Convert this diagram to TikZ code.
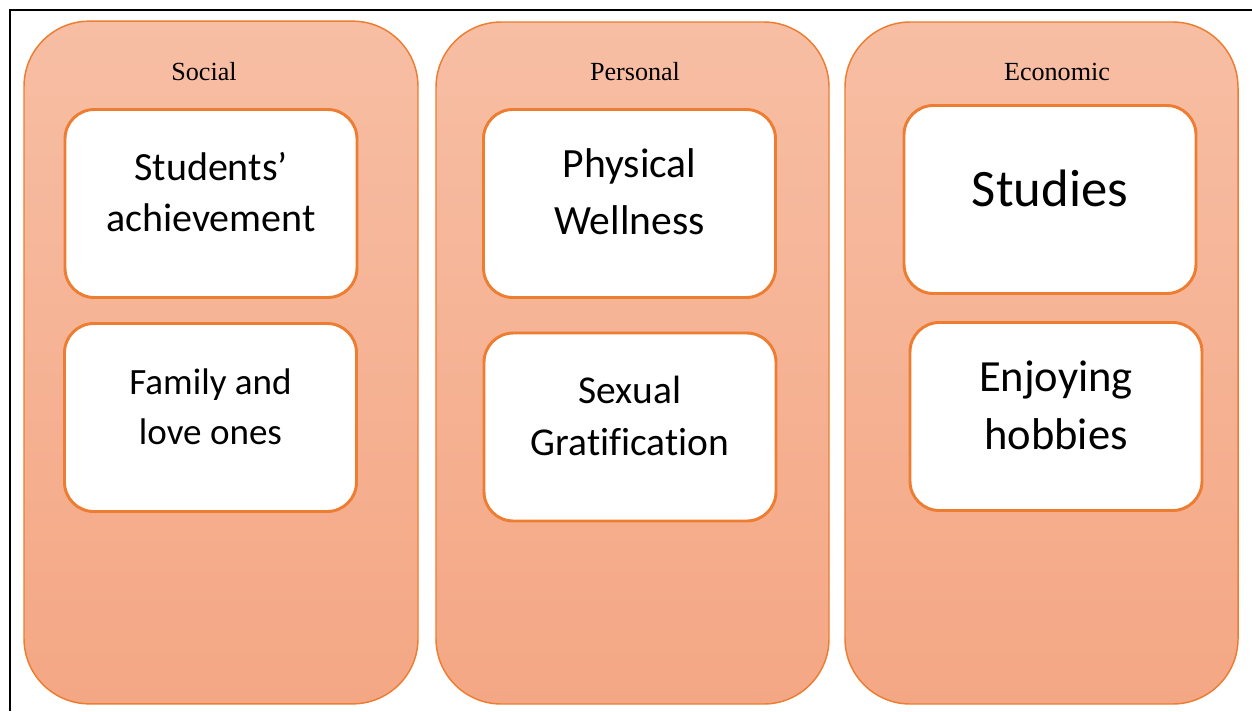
\documentclass[tikz,border=0pt]{standalone}
\usepackage{fontspec}
\setmainfont{Liberation Serif}
\newfontfamily\boxfont[Ligatures={NoCommon,TeX}]{Carlito}
\definecolor{colTop}{HTML}{F7BEA4}
\definecolor{colBot}{HTML}{F4A784}
\definecolor{colLine}{HTML}{ED7D31}
\begin{document}
\begin{tikzpicture}[x=0.75pt,y=-0.75pt,
  column/.style={draw=colLine, line width=1.1pt, rounded corners=49pt, top color=colTop, bottom color=colBot, shading angle=0, minimum width=#1, inner sep=0pt},
  itembox/.style={draw=colLine, line width=2.2pt, fill=white, rounded corners=22pt, minimum width=219pt, minimum height=141pt, inner sep=0pt},
  title/.style={font=\fontsize{19.6}{23}\selectfont, inner sep=0pt},
  itemtext/.style={align=center, inner sep=0pt}
]
\useasboundingbox (0,0) rectangle (1252,711);
\draw[line width=1.6pt] (10,711) coordinate (bl) -- (10,10) coordinate (tl) -- (1252,10) coordinate (tr);

\node[column=295.5pt, minimum height=512pt] (social) at (221,362.5) {};
\node[column=294.75pt, minimum height=511.5pt] (personal) at (632.5,363) {};
\node[column=294.75pt, minimum height=511.5pt] (economic) at (1041.5,363) {};

\node[title] (socialT) at (204,72) {Social};
\node[title] (personalT) at (635,72) {Personal};
\node[title] (economicT) at (1057,72) {Economic};

\node[itembox] (s1) at (211,203.5) {};
\node[itembox] (s2) at (210.5,417.5) {};
\node[itembox] (p1) at (629.5,203.5) {};
\node[itembox] (p2) at (630,427) {};
\node[itembox] (e1) at (1050,199.5) {};
\node[itembox] (e2) at (1056,416.5) {};

\node[itemtext, font=\boxfont\fontsize{30}{38}\selectfont] (s1t) at ([yshift=8.5pt]s1.center) {Students’\\achievement};
\node[itemtext, font=\boxfont\fontsize{27.8}{37}\selectfont] (s2t) at ([yshift=8pt]s2.center) {Family and\\love ones};
\node[itemtext, font=\boxfont\fontsize{31.2}{43}\selectfont] (p1t) at ([yshift=9pt]p1.center) {Physical\\Wellness};
\node[itemtext, font=\boxfont\fontsize{29.6}{39}\selectfont] (p2t) at ([yshift=8pt]p2.center) {Sexual\\Gratification};
\node[itemtext, font=\boxfont\fontsize{39.5}{47}\selectfont] (e1t) at ([yshift=8pt]e1.center) {Studies};
\node[itemtext, font=\boxfont\fontsize{33.4}{43.5}\selectfont] (e2t) at ([yshift=8pt]e2.center) {Enjoying\\hobbies};
\end{tikzpicture}
\end{document}
